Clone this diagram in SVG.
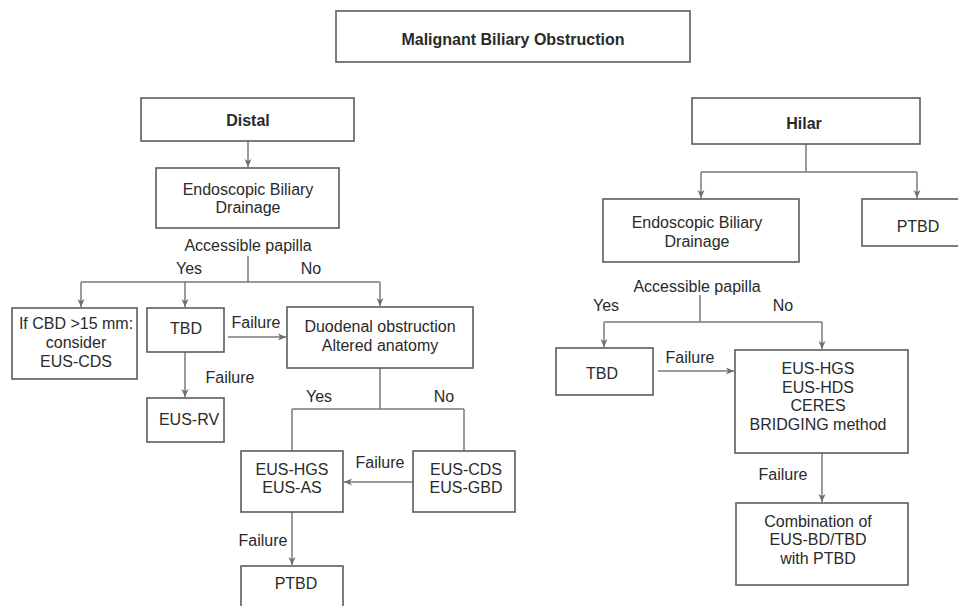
<svg xmlns="http://www.w3.org/2000/svg" width="958" height="606" viewBox="0 0 958 606">
<defs>
<marker id="arr" markerWidth="9" markerHeight="8" refX="8" refY="4" orient="auto" markerUnits="userSpaceOnUse">
<path d="M0,0.5 L8,4 L0,7.5 L2.2,4 Z" fill="#6e6e6e"/>
</marker>
<style>
rect{fill:#fff;stroke:#5c5c5c;stroke-width:1.6}
text{font-family:"Liberation Sans",Arial,sans-serif;font-size:16px;fill:#2a2a2a;text-anchor:middle}
.b{font-weight:bold}
#connectors path,#connectors line{fill:none;stroke:#7a7a7a;stroke-width:1.5}
.a{marker-end:url(#arr)}
</style>
</defs>
<rect x="0" y="0" width="958" height="606" style="fill:#fff;stroke:none"/>

<g id="connectors">
<line class="a" x1="248" y1="141" x2="248" y2="167"/>
<path d="M248,256 V282 M81,282 H380"/>
<line class="a" x1="81" y1="282" x2="81" y2="307"/>
<line class="a" x1="185" y1="282" x2="185" y2="307"/>
<line class="a" x1="380" y1="282" x2="380" y2="306"/>
<line class="a" x1="185" y1="352" x2="185" y2="397"/>
<line class="a" x1="228" y1="337" x2="286" y2="337"/>
<path d="M380,368 V409 M292,409 H464 M292,409 V451 M464,409 V451"/>
<line class="a" x1="413" y1="482" x2="344" y2="482"/>
<line class="a" x1="292" y1="512" x2="292" y2="565"/>
<path d="M806,144 V172 M701,172 H917"/>
<line class="a" x1="701" y1="172" x2="701" y2="198"/>
<line class="a" x1="917" y1="172" x2="917" y2="198"/>
<path d="M700,295 V322 M604,322 H822"/>
<line class="a" x1="604" y1="322" x2="604" y2="347"/>
<line class="a" x1="822" y1="322" x2="822" y2="349"/>
<line class="a" x1="658" y1="371" x2="734" y2="371"/>
<line class="a" x1="822" y1="453" x2="822" y2="502"/>
</g>

<g id="labels">
<text x="248" y="251">Accessible papilla</text>
<text x="189" y="274">Yes</text>
<text x="311" y="274">No</text>
<text x="256" y="328">Failure</text>
<text x="230" y="383">Failure</text>
<text x="319" y="402">Yes</text>
<text x="444" y="402">No</text>
<text x="380" y="468">Failure</text>
<text x="263" y="546">Failure</text>
<text x="697" y="292">Accessible papilla</text>
<text x="606" y="311">Yes</text>
<text x="783" y="311">No</text>
<text x="690" y="363">Failure</text>
<text x="783" y="480">Failure</text>
</g>

<g id="n-title"><rect x="336" y="11" width="354" height="51"/><text class="b" x="513" y="45">Malignant Biliary Obstruction</text></g>
<g id="n-distal"><rect x="141" y="98" width="213" height="43"/><text class="b" x="248" y="126">Distal</text></g>
<g id="n-ebd-left"><rect x="156" y="168" width="183" height="60"/><text x="248" y="195">Endoscopic Biliary</text><text x="248" y="213">Drainage</text></g>
<g id="n-cbd"><rect x="12" y="308" width="125" height="71"/><text x="76" y="329">If CBD &gt;15 mm:</text><text x="76" y="348">consider</text><text x="76" y="367">EUS-CDS</text></g>
<g id="n-tbd-left"><rect x="147" y="308" width="77" height="44"/><text x="186" y="334">TBD</text></g>
<g id="n-eusrv"><rect x="147" y="398" width="77" height="44"/><text x="189" y="425">EUS-RV</text></g>
<g id="n-duodenal"><rect x="287" y="307" width="186" height="61"/><text x="380" y="332">Duodenal obstruction</text><text x="380" y="351">Altered anatomy</text></g>
<g id="n-hgs-as"><rect x="241" y="451" width="102" height="61"/><text x="292" y="475">EUS-HGS</text><text x="292" y="493">EUS-AS</text></g>
<g id="n-cds-gbd"><rect x="413" y="451" width="102" height="61"/><text x="466" y="475">EUS-CDS</text><text x="466" y="493">EUS-GBD</text></g>
<g id="n-ptbd-left"><rect x="241" y="566" width="102" height="60"/><text x="296" y="589">PTBD</text></g>

<g id="n-hilar"><rect x="692" y="98" width="228" height="46"/><text class="b" x="804" y="129">Hilar</text></g>
<g id="n-ebd-right"><rect x="603" y="199" width="196" height="63"/><text x="697" y="228">Endoscopic Biliary</text><text x="697" y="247">Drainage</text></g>
<g id="n-ptbd-right"><rect x="862" y="199" width="110" height="47"/><text x="918" y="232">PTBD</text></g>
<g id="n-tbd-right"><rect x="556" y="348" width="97" height="47"/><text x="602" y="379">TBD</text></g>
<g id="n-eus-right"><rect x="735" y="350" width="173" height="103"/><text x="818" y="374">EUS-HGS</text><text x="818" y="393">EUS-HDS</text><text x="818" y="411">CERES</text><text x="818" y="430">BRIDGING method</text></g>
<g id="n-combination"><rect x="736" y="503" width="172" height="82"/><text x="818" y="527">Combination of</text><text x="818" y="545">EUS-BD/TBD</text><text x="818" y="564">with PTBD</text></g>
</svg>
